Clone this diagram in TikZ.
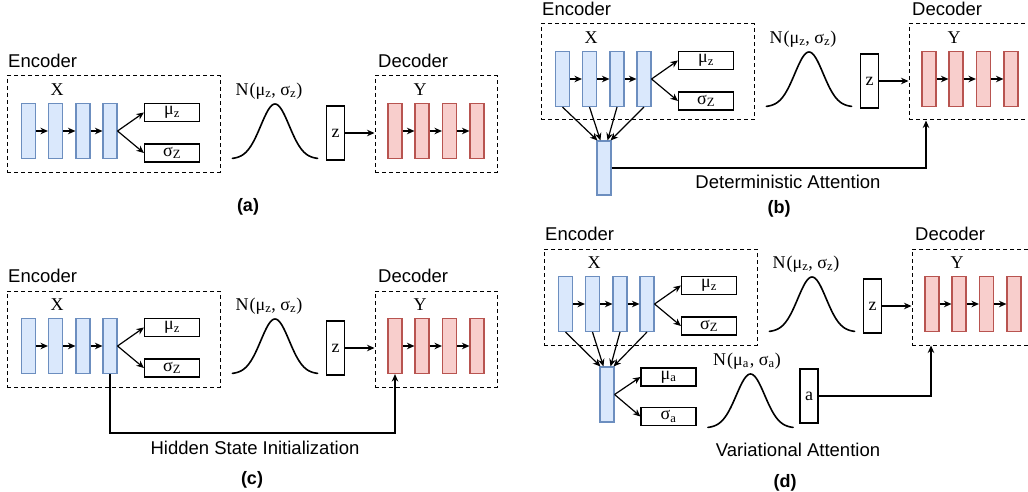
\documentclass[tikz,border=0pt]{standalone}
\usepackage{fontspec}
\setmainfont{Liberation Serif}
\setsansfont{Liberation Sans}
\usetikzlibrary{arrows.meta,calc}
\definecolor{bfill}{HTML}{DAE8FC}
\definecolor{bdraw}{HTML}{6C8EBF}
\definecolor{rfill}{HTML}{F8CECC}
\definecolor{rdraw}{HTML}{B85450}
\tikzset{
 bluebar/.style={draw=bdraw, fill=bfill, line width=1.1pt, minimum width=14pt, minimum height=55pt, inner sep=0pt},
 redbar/.style={draw=rdraw, fill=rfill, line width=1.1pt, minimum width=14pt, minimum height=55pt, inner sep=0pt},
 dbox/.style={draw, dash pattern=on 4pt off 3pt, line width=1pt, inner sep=0pt},
 vbox/.style={draw, line width=1.1pt, minimum width=55pt, minimum height=18pt, inner sep=0pt, font=\fontsize{18}{18}\selectfont},
 zbox/.style={draw, line width=1.1pt, minimum width=18pt, minimum height=54pt, inner sep=0pt, font=\fontsize{18}{18}\selectfont},
 arr/.style={-{Stealth[length=7.5pt,width=6.5pt]}, line width=1.2pt},
 lbl/.style={font=\sffamily\fontsize{18.5}{18.5}\selectfont, inner sep=0pt, anchor=west},
 captxt/.style={font=\sffamily\bfseries\fontsize{18}{18}\selectfont, inner sep=0pt},
 ser/.style={font=\fontsize{18}{18}\selectfont, inner sep=0pt},
 gauss/.style={line width=1.6pt, line cap=round},
}
\newcommand\mysub[1]{\textsubscript{#1}}
\newcommand\vaepanel[3]{%
\begin{scope}[shift={(#2,#3)}]
 \node[lbl] (#1enclbl) at (8,61) {Encoder};
 \node[dbox, minimum width=213pt, minimum height=96pt] (#1enc) at (113.5,124) {};
 \node[ser] (#1X) at (57,90) {X};
 \node[bluebar] (#1e1) at (28.5,131) {};
 \node[bluebar] (#1e2) at (55.5,131) {};
 \node[bluebar] (#1e3) at (83,131) {};
 \node[bluebar] (#1e4) at (110,131) {};
 \draw[arr] (#1e1) -- (#1e2);
 \draw[arr] (#1e2) -- (#1e3);
 \draw[arr] (#1e3) -- (#1e4);
 \node[vbox] (#1mu) at (172,112.5) {μ\mysub{z}};
 \node[vbox] (#1sig) at (172,153) {σ\mysub{Z}};
 \draw[arr] (#1e4.east) -- (#1mu.west);
 \draw[arr] (#1e4.east) -- (#1sig.west);
 \node[ser] (#1N) at (269,91) {N\kern1pt(μ\mysub{z}, σ\mysub{z})};
 \draw[gauss] plot[domain=-3:3,samples=61,smooth] ({275+\x*14.2},{159-55*exp(-(\x*\x)/2)});
 \node[zbox] (#1z) at (335.5,133) {z};
 \node[lbl] (#1declbl) at (378,61) {Decoder};
 \node[dbox, minimum width=122pt, minimum height=96pt] (#1dec) at (436,124) {};
 \node[ser] (#1Y) at (420,90) {Y};
 \node[redbar] (#1r1) at (395,131) {};
 \node[redbar] (#1r2) at (422,131) {};
 \node[redbar] (#1r3) at (449.5,131) {};
 \node[redbar] (#1r4) at (477,131) {};
 \draw[arr] (#1r1) -- (#1r2);
 \draw[arr] (#1r2) -- (#1r3);
 \draw[arr] (#1r3) -- (#1r4);
 \draw[arr] (#1z) -- (#1z -| #1dec.west);
\end{scope}}
\begin{document}
\begin{tikzpicture}[x=1pt,y=-1pt]
\useasboundingbox[fill=white] (0,0) rectangle (1028,492);
% (a)
\vaepanel{a}{0}{0}
\node[captxt] (acap) at (248,207) {(a)};
% (b)
\vaepanel{b}{534}{-52}
\node[bluebar, minimum height=54pt] (batt) at (604,168) {};
\draw[arr] (be1.south) -- ([xshift=1pt]batt.north west);
\draw[arr] (be2.south) -- ([xshift=4pt]batt.north west);
\draw[arr] (be3.south) -- ([xshift=-4pt]batt.north east);
\draw[arr] (be4.south) -- ([xshift=-1pt]batt.north east);
\draw[arr] (batt.east) -| ([xshift=-44pt]bdec.south);
\node[lbl, anchor=center] (btxt) at (788,182) {Deterministic Attention};
\node[captxt] (bcap) at (779,209) {(b)};
% (c)
\vaepanel{c}{0}{215}
\draw[arr] (ce4.south) -- ++(0,59) -| (cr1.south);
\node[lbl, anchor=center] (ctxt) at (255,448) {Hidden State Initialization};
\node[captxt] (ccap) at (252,480) {(c)};
% (d)
\vaepanel{d}{537}{173}
\node[bluebar] (datt) at (607,394.5) {};
\draw[arr] (de1.south) -- ([xshift=1pt]datt.north west);
\draw[arr] (de2.south) -- ([xshift=4pt]datt.north west);
\draw[arr] (de3.south) -- ([xshift=-4pt]datt.north east);
\draw[arr] (de4.south) -- ([xshift=-1pt]datt.north east);
\node[vbox] (dmua) at (668.5,377) {μ\mysub{a}};
\node[vbox] (dsiga) at (668.5,416.5) {σ\mysub{a}};
\draw[arr] (datt.east) -- (dmua.west);
\draw[arr] (datt.east) -- (dsiga.west);
\node[ser] (dNa) at (747,361) {N\kern1pt(μ\mysub{a}\kern1pt, σ\mysub{a})};
\draw[gauss] plot[domain=-3:3,samples=61,smooth] ({750.5+\x*14.2},{428-54*exp(-(\x*\x)/2)});
\node[zbox] (da) at (809,396) {a};
\draw[arr] (da.east) -| ([xshift=-42pt]ddec.south);
\node[lbl, anchor=center] (dtxt) at (798,450) {Variational Attention};
\node[captxt] (dcap) at (785,483) {(d)};
\end{tikzpicture}
\end{document}
